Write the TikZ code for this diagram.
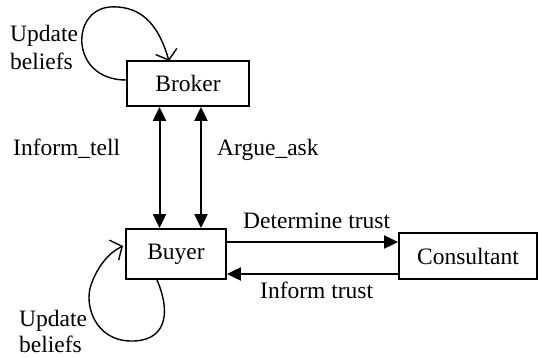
\documentclass[tikz,border=0pt]{standalone}
\usepackage{fontspec}
\setmainfont{Liberation Serif}
\usetikzlibrary{arrows.meta}
\begin{document}
\begin{tikzpicture}[x=1pt,y=-1pt,
  every node/.style={font=\fontsize{23.5}{26}\selectfont, inner sep=0pt},
  agent/.style={draw, line width=1.8pt, rectangle},
  label/.style={anchor=base west},
  msg/.style={line width=2pt, -{Triangle[length=14pt,width=13pt]}},
  biarrow/.style={line width=2pt, {Triangle[length=14pt,width=13pt]}-{Triangle[length=14pt,width=13pt]}},
  selfloop/.style={line width=1.4pt, -{Straight Barb[length=9pt,width=22pt]}}]
\useasboundingbox (0,0) rectangle (539,359);

% agents
\node[agent, minimum width=122pt, minimum height=45pt] (broker) at (188,83.5) {Broker};
\node[agent, minimum width=100pt, minimum height=50pt] (buyer) at (176,254) {Buyer};
\node[agent, minimum width=138pt, minimum height=46pt] (consultant) at (468,256) {Consultant};

% broker <-> buyer messages
\draw[biarrow] ([xshift=-28.5pt]broker.south) -- ([xshift=-28.5pt]broker.south |- buyer.north);
\draw[biarrow] ([xshift=13pt]broker.south) -- ([xshift=13pt]broker.south |- buyer.north);
\node[label] (tell) at (13,155) {Inform\_tell};
\node[label] (ask) at (217,155) {Argue\_ask};

% buyer <-> consultant messages
\draw[msg] ([yshift=12pt]buyer.east) -- ([yshift=12pt]buyer.east -| consultant.west);
\draw[msg] ([yshift=-20pt]buyer.east -| consultant.west) -- ([yshift=-20pt]buyer.east);
\node[label] (det) at (243,228) {Determine trust};
\node[label] (inf) at (260,298) {Inform trust};

% broker self-loop
\coordinate (bl0) at (broker.west |- 0,80);
\coordinate (bl1) at (169,61);
\draw[selfloop] (bl0) .. controls (70,80) and (70,10) .. (110,7)
  .. controls (145,5) and (160,30) .. (bl1);
\node[label] (u1) at (10,41) {Update};
\node[label] (b1) at (10,69) {beliefs};

% buyer self-loop
\coordinate (yl0) at ([xshift=-19pt]buyer.south);
\coordinate (yl1) at (123,246);
\draw[selfloop] (yl0) .. controls (172,315) and (165,342) .. (130,341)
  .. controls (95,340) and (84,305) .. (91,285)
  .. controls (98,265) and (110,252) .. (yl1);
\node[label] (u2) at (19,326) {Update};
\node[label] (b2) at (19,352) {beliefs};
\end{tikzpicture}
\end{document}
